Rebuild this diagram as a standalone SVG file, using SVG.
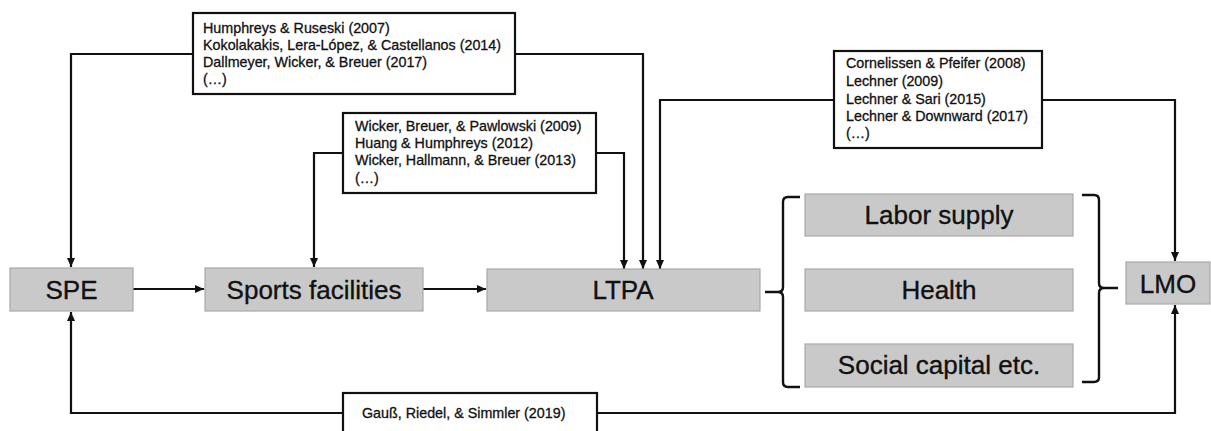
<svg xmlns="http://www.w3.org/2000/svg" width="1211" height="431" viewBox="0 0 1211 431">
<style>
.node{fill:#c9c9c9;stroke:#a8a8a8;stroke-width:1.2}
.nt{font-family:"Liberation Sans",Arial,sans-serif;font-size:26px;fill:#111;stroke:#111;stroke-width:0.35;text-anchor:middle;dominant-baseline:central}
.cite{fill:#fff;stroke:#111;stroke-width:2.2}
.ct{font-family:"Liberation Sans",Arial,sans-serif;font-size:14.3px;fill:#111;stroke:#111;stroke-width:0.3}
.con{fill:none;stroke:#111;stroke-width:2.2}
.br{fill:none;stroke:#111;stroke-width:2.4}
</style>
<defs>
<marker id="ah" markerWidth="10" markerHeight="10" refX="9" refY="5" orient="auto" markerUnits="userSpaceOnUse">
<path d="M0,1 L9,5 L0,9 Z" fill="#111"/>
</marker>
</defs>
<g id="connectors">
<path class="con" d="M193,54 H71 V267" marker-end="url(#ah)"/>
<path class="con" d="M515,54 H643 V269" marker-end="url(#ah)"/>
<path class="con" d="M343,153 H314 V267" marker-end="url(#ah)"/>
<path class="con" d="M596,153 H624 V269" marker-end="url(#ah)"/>
<path class="con" d="M834,100 H660 V269" marker-end="url(#ah)"/>
<path class="con" d="M1042,100 H1175 V261" marker-end="url(#ah)"/>
<path class="con" d="M343,413 H71 V312" marker-end="url(#ah)"/>
<path class="con" d="M597,413 H1175 V305" marker-end="url(#ah)"/>
<path class="con" d="M133,289 H204" marker-end="url(#ah)"/>
<path class="con" d="M423,289 H486" marker-end="url(#ah)"/>
<path class="br" d="M800,197 H788 Q783,197 783,202 V287 Q783,292 778,292 H765 M778,292 Q783,292 783,297 V382 Q783,387 788,387 H800"/>
<path class="br" d="M1082,195 H1094 Q1099,195 1099,200 V283 Q1099,288 1104,288 H1118 M1104,288 Q1099,288 1099,293 V377 Q1099,382 1094,382 H1082"/>
</g>
<g id="node-spe"><rect class="node" x="10" y="268" width="123" height="43"/><text class="nt" x="71.5" y="290">SPE</text></g>
<g id="node-sports"><rect class="node" x="205" y="268" width="218" height="43"/><text class="nt" x="314" y="290">Sports facilities</text></g>
<g id="node-ltpa"><rect class="node" x="487" y="269" width="273" height="42"/><text class="nt" x="623" y="290">LTPA</text></g>
<g id="node-labor"><rect class="node" x="805" y="194" width="268" height="42"/><text class="nt" x="939" y="215">Labor supply</text></g>
<g id="node-health"><rect class="node" x="805" y="269" width="268" height="42"/><text class="nt" x="939" y="290">Health</text></g>
<g id="node-social"><rect class="node" x="805" y="344" width="268" height="43"/><text class="nt" x="939" y="365">Social capital etc.</text></g>
<g id="node-lmo"><rect class="node" x="1126" y="262" width="84" height="42"/><text class="nt" x="1168" y="284">LMO</text></g>
<g id="cite-1"><rect class="cite" x="193" y="13" width="322" height="81"/>
<text class="ct"><tspan x="203" y="33">Humphreys  &amp; Ruseski (2007)</tspan><tspan x="203" y="50">Kokolakakis, Lera-López, &amp; Castellanos (2014)</tspan><tspan x="203" y="67">Dallmeyer, Wicker, &amp; Breuer (2017)</tspan><tspan x="203" y="84">(…)</tspan></text></g>
<g id="cite-2"><rect class="cite" x="834" y="51" width="208" height="97"/>
<text class="ct"><tspan x="846" y="68">Cornelissen &amp; Pfeifer (2008)</tspan><tspan x="846" y="86">Lechner (2009)</tspan><tspan x="846" y="104">Lechner &amp; Sari (2015)</tspan><tspan x="846" y="121">Lechner &amp; Downward (2017)</tspan><tspan x="846" y="138">(…)</tspan></text></g>
<g id="cite-3"><rect class="cite" x="343" y="113" width="253" height="80"/>
<text class="ct"><tspan x="355" y="131">Wicker, Breuer, &amp; Pawlowski (2009)</tspan><tspan x="355" y="148">Huang &amp; Humphreys  (2012)</tspan><tspan x="355" y="165">Wicker, Hallmann,  &amp; Breuer (2013)</tspan><tspan x="355" y="183">(…)</tspan></text></g>
<g id="cite-4"><rect class="cite" x="343" y="393" width="254" height="42"/>
<text class="ct" x="362" y="418">Gauß, Riedel, &amp; Simmler (2019)</text></g>
</svg>
